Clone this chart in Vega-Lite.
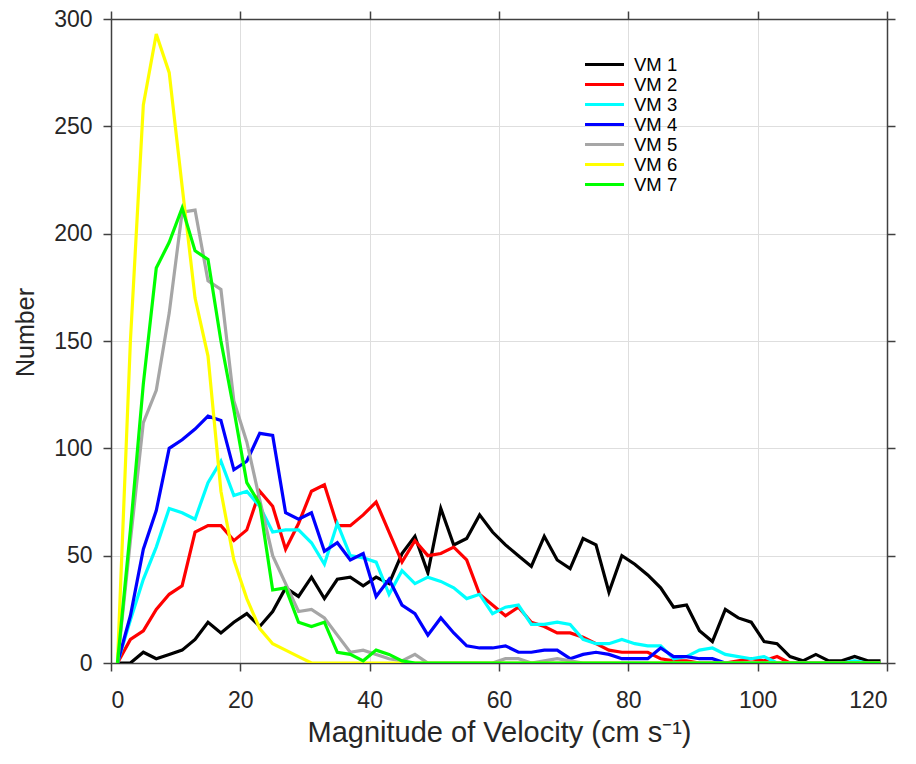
{
  "$schema": "https://vega.github.io/schema/vega-lite/v6.json",
  "autosize": "none",
  "width": 776,
  "height": 644,
  "padding": {"left": 111, "top": 19, "right": 29, "bottom": 101},
  "background": "white",
  "config": {
    "font": "Liberation Sans",
    "view": {"stroke": null},
    "axis": {
      "domainColor": "#404040",
      "domainWidth": 1.5,
      "tickColor": "#404040",
      "tickWidth": 1.5,
      "tickSize": 8,
      "labelColor": "#262626",
      "titleColor": "#262626",
      "labelFont": "Liberation Sans",
      "titleFont": "Liberation Sans",
      "titleFontWeight": "normal",
      "gridColor": "#dedede",
      "gridWidth": 1
    }
  },
  "data": {
    "values": [
      {"x": 1, "VM 1": 0, "VM 2": 0, "VM 3": 0, "VM 4": 0, "VM 5": 0, "VM 6": 0, "VM 7": 0},
      {"x": 3, "VM 1": 0, "VM 2": 11, "VM 3": 20, "VM 4": 22, "VM 5": 57, "VM 6": 150, "VM 7": 62},
      {"x": 5, "VM 1": 5, "VM 2": 15, "VM 3": 39, "VM 4": 53, "VM 5": 112, "VM 6": 260, "VM 7": 130},
      {"x": 7, "VM 1": 2, "VM 2": 25, "VM 3": 54, "VM 4": 71, "VM 5": 127, "VM 6": 293, "VM 7": 184},
      {"x": 9, "VM 1": 4, "VM 2": 32, "VM 3": 72, "VM 4": 100, "VM 5": 163, "VM 6": 275, "VM 7": 196},
      {"x": 11, "VM 1": 6, "VM 2": 36, "VM 3": 70, "VM 4": 104, "VM 5": 210, "VM 6": 222, "VM 7": 212},
      {"x": 13, "VM 1": 11, "VM 2": 61, "VM 3": 67, "VM 4": 109, "VM 5": 211, "VM 6": 170, "VM 7": 192},
      {"x": 15, "VM 1": 19, "VM 2": 64, "VM 3": 84, "VM 4": 115, "VM 5": 178, "VM 6": 143, "VM 7": 188},
      {"x": 17, "VM 1": 14, "VM 2": 64, "VM 3": 94, "VM 4": 113, "VM 5": 174, "VM 6": 80, "VM 7": 150},
      {"x": 19, "VM 1": 19, "VM 2": 57, "VM 3": 78, "VM 4": 90, "VM 5": 122, "VM 6": 48, "VM 7": 118},
      {"x": 21, "VM 1": 23, "VM 2": 62, "VM 3": 80, "VM 4": 94, "VM 5": 103, "VM 6": 30, "VM 7": 84},
      {"x": 23, "VM 1": 17, "VM 2": 80, "VM 3": 73, "VM 4": 107, "VM 5": 76, "VM 6": 16, "VM 7": 74},
      {"x": 25, "VM 1": 24, "VM 2": 73, "VM 3": 61, "VM 4": 106, "VM 5": 50, "VM 6": 9, "VM 7": 34},
      {"x": 27, "VM 1": 35, "VM 2": 53, "VM 3": 62, "VM 4": 70, "VM 5": 37, "VM 6": 6, "VM 7": 35},
      {"x": 29, "VM 1": 31, "VM 2": 65, "VM 3": 62, "VM 4": 67, "VM 5": 24, "VM 6": 3, "VM 7": 19},
      {"x": 31, "VM 1": 40, "VM 2": 80, "VM 3": 56, "VM 4": 70, "VM 5": 25, "VM 6": 0, "VM 7": 17},
      {"x": 33, "VM 1": 30, "VM 2": 83, "VM 3": 46, "VM 4": 52, "VM 5": 21, "VM 6": 0, "VM 7": 19},
      {"x": 35, "VM 1": 39, "VM 2": 64, "VM 3": 65, "VM 4": 56, "VM 5": 13, "VM 6": 0, "VM 7": 5},
      {"x": 37, "VM 1": 40, "VM 2": 64, "VM 3": 50, "VM 4": 48, "VM 5": 5, "VM 6": 0, "VM 7": 4},
      {"x": 39, "VM 1": 36, "VM 2": 69, "VM 3": 49, "VM 4": 51, "VM 5": 6, "VM 6": 0, "VM 7": 1},
      {"x": 41, "VM 1": 40, "VM 2": 75, "VM 3": 47, "VM 4": 31, "VM 5": 4, "VM 6": 0, "VM 7": 6},
      {"x": 43, "VM 1": 37, "VM 2": 61, "VM 3": 32, "VM 4": 39, "VM 5": 2, "VM 6": 0, "VM 7": 4},
      {"x": 45, "VM 1": 51, "VM 2": 47, "VM 3": 43, "VM 4": 27, "VM 5": 1, "VM 6": 0, "VM 7": 1},
      {"x": 47, "VM 1": 59, "VM 2": 57, "VM 3": 37, "VM 4": 23, "VM 5": 4, "VM 6": 0, "VM 7": 0},
      {"x": 49, "VM 1": 42, "VM 2": 50, "VM 3": 40, "VM 4": 13, "VM 5": 0, "VM 6": 0, "VM 7": 0},
      {"x": 51, "VM 1": 72, "VM 2": 51, "VM 3": 38, "VM 4": 21, "VM 5": 0, "VM 6": 0, "VM 7": 0},
      {"x": 53, "VM 1": 55, "VM 2": 54, "VM 3": 35, "VM 4": 14, "VM 5": 0, "VM 6": 0, "VM 7": 0},
      {"x": 55, "VM 1": 58, "VM 2": 48, "VM 3": 30, "VM 4": 8, "VM 5": 0, "VM 6": 0, "VM 7": 0},
      {"x": 57, "VM 1": 69, "VM 2": 32, "VM 3": 32, "VM 4": 7, "VM 5": 0, "VM 6": 0, "VM 7": 0},
      {"x": 59, "VM 1": 61, "VM 2": 27, "VM 3": 23, "VM 4": 7, "VM 5": 0, "VM 6": 0, "VM 7": 0},
      {"x": 61, "VM 1": 55, "VM 2": 22, "VM 3": 26, "VM 4": 8, "VM 5": 2, "VM 6": 0, "VM 7": 0},
      {"x": 63, "VM 1": 50, "VM 2": 26, "VM 3": 27, "VM 4": 5, "VM 5": 2, "VM 6": 0, "VM 7": 0},
      {"x": 65, "VM 1": 45, "VM 2": 19, "VM 3": 18, "VM 4": 5, "VM 5": 0, "VM 6": 0, "VM 7": 0},
      {"x": 67, "VM 1": 59, "VM 2": 17, "VM 3": 18, "VM 4": 6, "VM 5": 1, "VM 6": 0, "VM 7": 0},
      {"x": 69, "VM 1": 48, "VM 2": 14, "VM 3": 19, "VM 4": 6, "VM 5": 2, "VM 6": 0, "VM 7": 0},
      {"x": 71, "VM 1": 44, "VM 2": 14, "VM 3": 18, "VM 4": 2, "VM 5": 1, "VM 6": 0, "VM 7": 0},
      {"x": 73, "VM 1": 58, "VM 2": 12, "VM 3": 11, "VM 4": 4, "VM 5": 0, "VM 6": 0, "VM 7": 0},
      {"x": 75, "VM 1": 55, "VM 2": 9, "VM 3": 9, "VM 4": 5, "VM 5": 0, "VM 6": 0, "VM 7": 0},
      {"x": 77, "VM 1": 33, "VM 2": 6, "VM 3": 9, "VM 4": 4, "VM 5": 0, "VM 6": 0, "VM 7": 0},
      {"x": 79, "VM 1": 50, "VM 2": 5, "VM 3": 11, "VM 4": 2, "VM 5": 0, "VM 6": 0, "VM 7": 0},
      {"x": 81, "VM 1": 46, "VM 2": 5, "VM 3": 9, "VM 4": 2, "VM 5": 0, "VM 6": 0, "VM 7": 0},
      {"x": 83, "VM 1": 41, "VM 2": 5, "VM 3": 8, "VM 4": 2, "VM 5": 0, "VM 6": 0, "VM 7": 0},
      {"x": 85, "VM 1": 35, "VM 2": 2, "VM 3": 8, "VM 4": 7, "VM 5": 0, "VM 6": 0, "VM 7": 0},
      {"x": 87, "VM 1": 26, "VM 2": 1, "VM 3": 2, "VM 4": 3, "VM 5": 0, "VM 6": 0, "VM 7": 0},
      {"x": 89, "VM 1": 27, "VM 2": 1, "VM 3": 3, "VM 4": 3, "VM 5": 0, "VM 6": 0, "VM 7": 0},
      {"x": 91, "VM 1": 15, "VM 2": 0, "VM 3": 6, "VM 4": 2, "VM 5": 0, "VM 6": 0, "VM 7": 0},
      {"x": 93, "VM 1": 10, "VM 2": 0, "VM 3": 7, "VM 4": 2, "VM 5": 0, "VM 6": 0, "VM 7": 0},
      {"x": 95, "VM 1": 25, "VM 2": 0, "VM 3": 4, "VM 4": 0, "VM 5": 0, "VM 6": 0, "VM 7": 0},
      {"x": 97, "VM 1": 21, "VM 2": 1, "VM 3": 3, "VM 4": 0, "VM 5": 0, "VM 6": 0, "VM 7": 0},
      {"x": 99, "VM 1": 19, "VM 2": 2, "VM 3": 2, "VM 4": 0, "VM 5": 0, "VM 6": 0, "VM 7": 0},
      {"x": 101, "VM 1": 10, "VM 2": 1, "VM 3": 3, "VM 4": 0, "VM 5": 0, "VM 6": 0, "VM 7": 0},
      {"x": 103, "VM 1": 9, "VM 2": 3, "VM 3": 0, "VM 4": 0, "VM 5": 0, "VM 6": 0, "VM 7": 0},
      {"x": 105, "VM 1": 3, "VM 2": 0, "VM 3": 0, "VM 4": 0, "VM 5": 0, "VM 6": 0, "VM 7": 0},
      {"x": 107, "VM 1": 1, "VM 2": 0, "VM 3": 0, "VM 4": 0, "VM 5": 0, "VM 6": 0, "VM 7": 0},
      {"x": 109, "VM 1": 4, "VM 2": 0, "VM 3": 0, "VM 4": 0, "VM 5": 0, "VM 6": 0, "VM 7": 0},
      {"x": 111, "VM 1": 1, "VM 2": 0, "VM 3": 0, "VM 4": 0, "VM 5": 0, "VM 6": 0, "VM 7": 0},
      {"x": 113, "VM 1": 1, "VM 2": 0, "VM 3": 0, "VM 4": 0, "VM 5": 0, "VM 6": 0, "VM 7": 0},
      {"x": 115, "VM 1": 3, "VM 2": 0, "VM 3": 1, "VM 4": 0, "VM 5": 0, "VM 6": 0, "VM 7": 0},
      {"x": 117, "VM 1": 1, "VM 2": 0, "VM 3": 0, "VM 4": 0, "VM 5": 0, "VM 6": 0, "VM 7": 0},
      {"x": 119, "VM 1": 1, "VM 2": 0, "VM 3": 0, "VM 4": 0, "VM 5": 0, "VM 6": 0, "VM 7": 0}
    ]
  },
  "transform": [
    {"fold": ["VM 1", "VM 2", "VM 3", "VM 4", "VM 5", "VM 6", "VM 7"], "as": ["series", "count"]}
  ],
  "layer": [
    {
      "mark": {"type": "line", "strokeWidth": 3.2, "strokeJoin": "miter", "clip": true},
      "encoding": {
        "x": {
          "field": "x", "type": "quantitative",
          "scale": {"domain": [0, 120], "nice": false, "zero": false},
          "axis": {
            "orient": "bottom", "values": [0, 20, 40, 60, 80, 100, 120],
            "grid": true, "labelFontSize": 23, "labelPadding": 18,
            "title": "Magnitude of Velocity (cm s⁻¹)", "titleFontSize": 29,
            "titleBaseline": "alphabetic", "titleY": 78
          }
        },
        "y": {
          "field": "count", "type": "quantitative",
          "scale": {"domain": [0, 300], "nice": false},
          "axis": {
            "orient": "left", "values": [0, 50, 100, 150, 200, 250, 300],
            "grid": true, "labelFontSize": 23, "labelPadding": 11,
            "title": "Number", "titleFontSize": 25,
            "titleBaseline": "alphabetic", "titleX": -78, "titleY": 313, "titleAngle": -90
          }
        },
        "color": {
          "field": "series", "type": "nominal",
          "scale": {
            "domain": ["VM 1", "VM 2", "VM 3", "VM 4", "VM 5", "VM 6", "VM 7"],
            "range": ["#000000", "#ff0000", "#00ffff", "#0000ff", "#a6a6a6", "#ffff00", "#00ff00"]
          },
          "legend": {
            "title": null, "orient": "none", "legendX": 483, "legendY": 35,
            "symbolType": "M-2.25,0H2.25", "symbolSize": 300, "symbolStrokeWidth": 3,
            "labelFontSize": 18.5, "labelColor": "#000000", "labelFont": "Liberation Sans",
            "labelOffset": 19, "rowPadding": 0, "padding": 0
          }
        }
      }
    },
    {
      "mark": {"type": "line", "opacity": 0},
      "encoding": {
        "x": {
          "field": "x", "type": "quantitative",
          "axis": {"orient": "top", "values": [0, 20, 40, 60, 80, 100, 120], "labels": false, "grid": false, "title": null}
        },
        "y": {
          "field": "count", "type": "quantitative",
          "axis": {"orient": "right", "values": [0, 50, 100, 150, 200, 250, 300], "labels": false, "grid": false, "title": null}
        },
        "detail": {"field": "series"}
      }
    }
  ],
  "resolve": {"axis": {"x": "independent", "y": "independent"}}
}
